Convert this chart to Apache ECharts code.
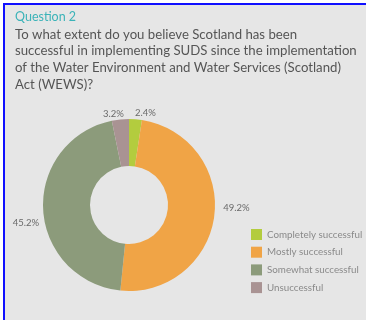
<!DOCTYPE html>
<html><head><meta charset="utf-8">
<script src="https://cdn.jsdelivr.net/npm/echarts@6/dist/echarts.min.js"></script>
<style>html,body{margin:0;padding:0;background:#fff}#c{width:366px;height:320px}</style>
</head><body><div id="c"></div>
<script>
const categories = ['Completely successful','Mostly successful','Somewhat successful','Unsuccessful'];
const values = [2.4, 49.2, 45.2, 3.2];
const colors = ['#b3cc3e','#f0a446','#8c9b7b','#a99393'];
const heading = 'Question 2';
const question = 'To what extent do you believe Scotland has been\nsuccessful in implementing SUDS since the implementation\nof the Water Environment and Water Services (Scotland)\nAct (WEWS)?';

const labelNudges = [[-6,0],[-2,-9],[7,13],[9,0]];
const chart = echarts.init(document.getElementById('c'), null, {renderer:'canvas'});
chart.setOption({
  animation:false,
  backgroundColor:'#ffffff',
  graphic:[{type:'rect', z:-10, shape:{x:4,y:4,width:380,height:340}, style:{fill:'#e6e6e6', stroke:'#1010ff', lineWidth:2}}],
  title:{
    text: heading, subtext: question, left: 10, top: 5, itemGap: 3,
    textStyle:{fontFamily:'Lato', fontSize:12.5, fontWeight:'normal', color:'#3bb3b8'},
    subtextStyle:{fontFamily:'Lato', fontSize:13.2, color:'#555', lineHeight:16.8}
  },
  legend:{
    orient:'vertical', left:246, top:224, icon:'rect', itemWidth:11, itemHeight:11, itemGap:6.7,
    textStyle:{fontFamily:'Lato', fontSize:9.8, color:'#8a8a8a'},
    data: categories
  },
  series:[{
    type:'pie', center:[129,205], radius:[39,86], startAngle:90, clockwise:true,
    color: colors,
    label:{show:true, position:'outside', formatter:'{c}%', fontFamily:'Lato', fontSize:9.5, color:'#6a6a6a', overflow:'none'},
    labelLine:{show:false, length:6, length2:0},
    emphasis:{disabled:true},
    data: categories.map((n,i)=>({name:n, value:values[i], label:{offset:labelNudges[i]}}))
  }]
});
</script></body></html>
